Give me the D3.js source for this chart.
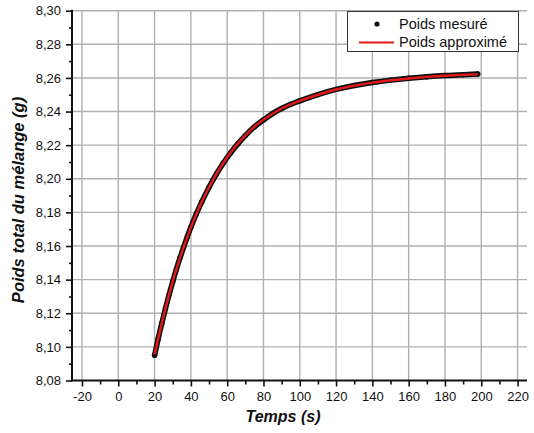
<!DOCTYPE html>
<html><head><meta charset="utf-8">
<script src="https://cdn.jsdelivr.net/npm/d3@7"></script>
<style>body{margin:0;background:#fff}svg{display:block}text{font-family:"Liberation Sans",Arial,sans-serif}</style>
</head><body><svg id="c" width="534" height="433"></svg>
<script>
const measuredTime = [20,22,24,26,28,30,32,34,36,38,40,43,46,50,54,58,62,66,70,75,80,85,90,95,100,110,120,130,140,150,160,170,180,190,198];
const measuredWeight = [8.0950,8.1049,8.1141,8.1228,8.1311,8.1388,8.1461,8.1529,8.1593,8.1654,8.1711,8.1791,8.1863,8.1950,8.2027,8.2095,8.2156,8.2209,8.2257,8.2309,8.2350,8.2388,8.2418,8.2443,8.2464,8.2501,8.2532,8.2555,8.2573,8.2587,8.2598,8.2607,8.2614,8.2619,8.2623];
const fitTime = [20,25,30,35,40,45,50,55,60,65,70,75,80,90,100,110,120,130,140,150,160,170,180,190,198];
const fitWeight = [8.0955,8.1186,8.1390,8.1562,8.1711,8.1840,8.1950,8.2046,8.2128,8.2198,8.2258,8.2310,8.2352,8.2418,8.2464,8.2500,8.2531,8.2554,8.2572,8.2586,8.2597,8.2606,8.2613,8.2618,8.2621];
const xTicks = [-20,0,20,40,60,80,100,120,140,160,180,200,220];
const xMinor = [-10,10,30,50,70,90,110,130,150,170,190,210];
const yTicks = [8.08,8.10,8.12,8.14,8.16,8.18,8.20,8.22,8.24,8.26,8.28,8.30];
const yMinor = [8.09,8.11,8.13,8.15,8.17,8.19,8.21,8.23,8.25,8.27,8.29];
const legendLabels = ["Poids mesuré","Poids approximé"];
const xTitle = "Temps (s)", yTitle = "Poids total du mélange (g)";

const svg = d3.select("#c");
const L = 72, R = 527, T = 10.7, B = 380.5;
const x = d3.scaleLinear().domain([-25.5, 225.2]).range([L, R]);
const y = d3.scaleLinear().domain([8.08, 8.30]).range([B, T]);
const fmt = v => d3.format(".2f")(v).replace(".", ",");

// grid
const grid = svg.append("g").attr("stroke", "#b0b0b0").attr("stroke-width", 1.4);
grid.selectAll("line.v").data(xTicks).join("line").attr("x1", d => x(d)).attr("x2", d => x(d)).attr("y1", T).attr("y2", B);
grid.selectAll("line.h").data(yTicks.slice(1)).join("line").attr("y1", d => y(d)).attr("y2", d => y(d)).attr("x1", L).attr("x2", R);

// axes
const xAxis = d3.axisBottom(x).tickValues(xTicks).tickSize(6).tickPadding(5).tickFormat(d => String(d));
svg.append("g").attr("transform", `translate(0,${B})`).call(xAxis);
const xMinorAxis = d3.axisBottom(x).tickValues(xMinor).tickSize(4).tickFormat("");
svg.append("g").attr("transform", `translate(0,${B})`).call(xMinorAxis);
const yAxis = d3.axisLeft(y).tickValues(yTicks).tickSize(6).tickPadding(5).tickFormat(fmt);
svg.append("g").attr("transform", `translate(${L},0)`).call(yAxis);
const yMinorAxis = d3.axisLeft(y).tickValues(yMinor).tickSize(3).tickFormat("");
svg.append("g").attr("transform", `translate(${L},0)`).call(yMinorAxis);
svg.selectAll(".domain").remove();
svg.selectAll(".tick line").attr("stroke", "#111").attr("stroke-width", 1.6);
svg.selectAll(".tick text").attr("font-size", 13).attr("fill", "#111").style("font-family", '"Liberation Sans",Arial,sans-serif');
svg.append("line").attr("x1", L).attr("x2", L).attr("y1", T - 1).attr("y2", B + 1).attr("stroke", "#111").attr("stroke-width", 2);
svg.append("line").attr("x1", L - 1).attr("x2", R).attr("y1", B).attr("y2", B).attr("stroke", "#111").attr("stroke-width", 2);

// data
const measured = measuredTime.map((t, i) => [t, measuredWeight[i]]);
const fitted = fitTime.map((t, i) => [t, fitWeight[i]]);
const line = d3.line().x(d => x(d[0])).y(d => y(d[1])).curve(d3.curveNatural);
svg.append("path").datum(measured).attr("d", line).attr("fill", "none").attr("stroke", "#111").attr("stroke-width", 5.5).attr("stroke-linecap", "round");
svg.append("g").selectAll("circle").data(measured).join("circle").attr("cx", d => x(d[0])).attr("cy", d => y(d[1])).attr("r", 2.7).attr("fill", "#111");
svg.append("path").datum(fitted).attr("d", line).attr("fill", "none").attr("stroke", "#e31a1c").attr("stroke-width", 2.4);

// legend
const lg = svg.append("g");
lg.append("rect").attr("x", 347.5).attr("y", 11.5).attr("width", 171).attr("height", 40).attr("fill", "#fff").attr("stroke", "#333").attr("stroke-width", 1);
lg.append("circle").attr("cx", 377).attr("cy", 24).attr("r", 2.6).attr("fill", "#111");
lg.append("line").attr("x1", 359).attr("x2", 394).attr("y1", 42.5).attr("y2", 42.5).attr("stroke", "#e31a1c").attr("stroke-width", 2.2);
lg.selectAll("text").data(legendLabels).join("text").attr("x", 399).attr("y", (d, i) => i ? 47 : 28.5).attr("font-size", 14.5).attr("fill", "#111").text(d => d);

// titles
svg.append("text").attr("x", 283).attr("y", 422).attr("text-anchor", "middle").attr("font-size", 16).attr("font-weight", "bold").attr("font-style", "italic").attr("fill", "#111").text(xTitle);
svg.append("text").attr("transform", "translate(24,200) rotate(-90)").attr("text-anchor", "middle").attr("font-size", 16.5).attr("font-weight", "bold").attr("font-style", "italic").attr("fill", "#111").text(yTitle);
</script></body></html>
